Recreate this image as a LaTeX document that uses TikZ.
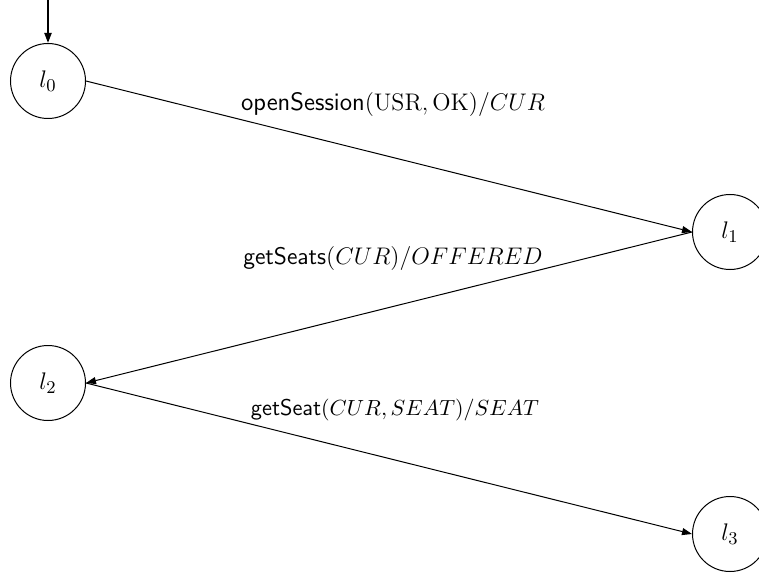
\documentclass[tikz,border=0pt]{standalone}
\usetikzlibrary{arrows.meta}
\begin{document}
\begin{tikzpicture}[x=0.5pt,y=-0.5pt,
  state/.style={draw,circle,line width=0.5pt,minimum size=37.5pt,inner sep=0pt,font=\fontsize{12.5}{14}\selectfont},
  trans/.style={line width=0.5pt,-{Triangle[length=5pt,width=3.5pt]}},
  lbl/.style={inner sep=0pt,font=\fontsize{12}{14}\selectfont}]
\clip (0,0) rectangle (759,572);
\node[state] (l0) at (48,81) {$l_0$};
\node[state] (l1) at (730,232) {$l_1$};
\node[state] (l2) at (48,383) {$l_2$};
\node[state] (l3) at (730,534) {$l_3$};
\coordinate (init) at (48,0);
\draw[line width=1pt,-{Triangle[length=5pt,width=3.5pt]}] (init) -- (l0.north);
\draw[trans] (l0.east) -- (l1.west);
\draw[trans] (l1.west) -- (l2.east);
\draw[trans] (l2.east) -- (l3.west);
\node[lbl,font=\fontsize{12.6}{14}\selectfont] (t1) at (393,104) {$\textsf{openSession}(\mathrm{USR},\mathrm{OK})/CUR$};
\node[lbl] (t2) at (393,258) {$\textsf{getSeats}(CUR)/OFFERED$};
\node[lbl,font=\fontsize{11.4}{14}\selectfont] (t3) at (395,410) {$\textsf{getSeat}(CUR,SEAT)/SEAT$};
\end{tikzpicture}
\end{document}
